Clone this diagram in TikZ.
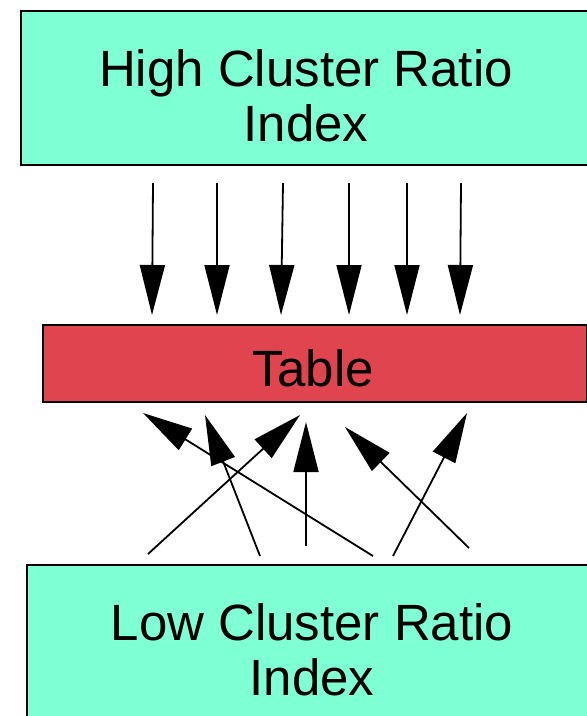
\documentclass[tikz,border=0pt]{standalone}
\usepackage{fontspec}
\setmainfont{Liberation Sans}
\usetikzlibrary{arrows.meta}
\definecolor{indexfill}{RGB}{127,255,212}
\definecolor{tablefill}{RGB}{224,68,78}
\begin{document}
\begin{tikzpicture}[x=1pt,y=-1pt,
  box/.style={draw=black,line width=2.4pt,inner sep=0pt,anchor=north west},
  lbl/.style={font=\fontsize{51}{55}\selectfont,align=center,anchor=base,inner sep=0pt},
  flow/.style={line width=1.8pt,-{Triangle[length=50pt,width=25pt]}}]
\useasboundingbox (0,0) rectangle (587,716);
\clip (0,0) rectangle (587,716);

% boxes
\node[box,fill=indexfill,minimum width=572pt,minimum height=154pt] (high) at (20,10) {};
\node[box,fill=tablefill,minimum width=544pt,minimum height=77pt] (table) at (42,324) {};
\node[box,fill=indexfill,minimum width=572pt,minimum height=200pt] (low) at (26,564) {};

% labels (base anchor sits on the last line)
\node[lbl] (hightext) at (306,141) {High Cluster Ratio\\Index};
\node[lbl] (tabletext) at (313,386) {Table};
\node[lbl] (lowtext) at (312,695) {Low Cluster Ratio\\Index};

% reads from the high cluster ratio index: in order
\coordinate (d1s) at (153,183); \coordinate (d1e) at (152,315);
\coordinate (d2s) at (217,183); \coordinate (d2e) at (217,315);
\coordinate (d3s) at (283,183); \coordinate (d3e) at (281,315);
\coordinate (d4s) at (349,183); \coordinate (d4e) at (349,315);
\coordinate (d5s) at (407,183); \coordinate (d5e) at (407,315);
\coordinate (d6s) at (461,183); \coordinate (d6e) at (460,315);
\foreach \i in {1,...,6} \draw[flow] (d\i s) -- (d\i e);

% reads from the low cluster ratio index: scattered
\coordinate (u1s) at (148,554); \coordinate (u1e) at (300,415);
\coordinate (u2s) at (260,556); \coordinate (u2e) at (205,415);
\coordinate (u3s) at (373,556); \coordinate (u3e) at (143,413);
\coordinate (u4s) at (306,546); \coordinate (u4e) at (306,422);
\coordinate (u5s) at (469,548); \coordinate (u5e) at (345,427);
\coordinate (u6s) at (393,556); \coordinate (u6e) at (467,413);
\foreach \i in {1,...,6} \draw[flow] (u\i s) -- (u\i e);
\end{tikzpicture}
\end{document}
